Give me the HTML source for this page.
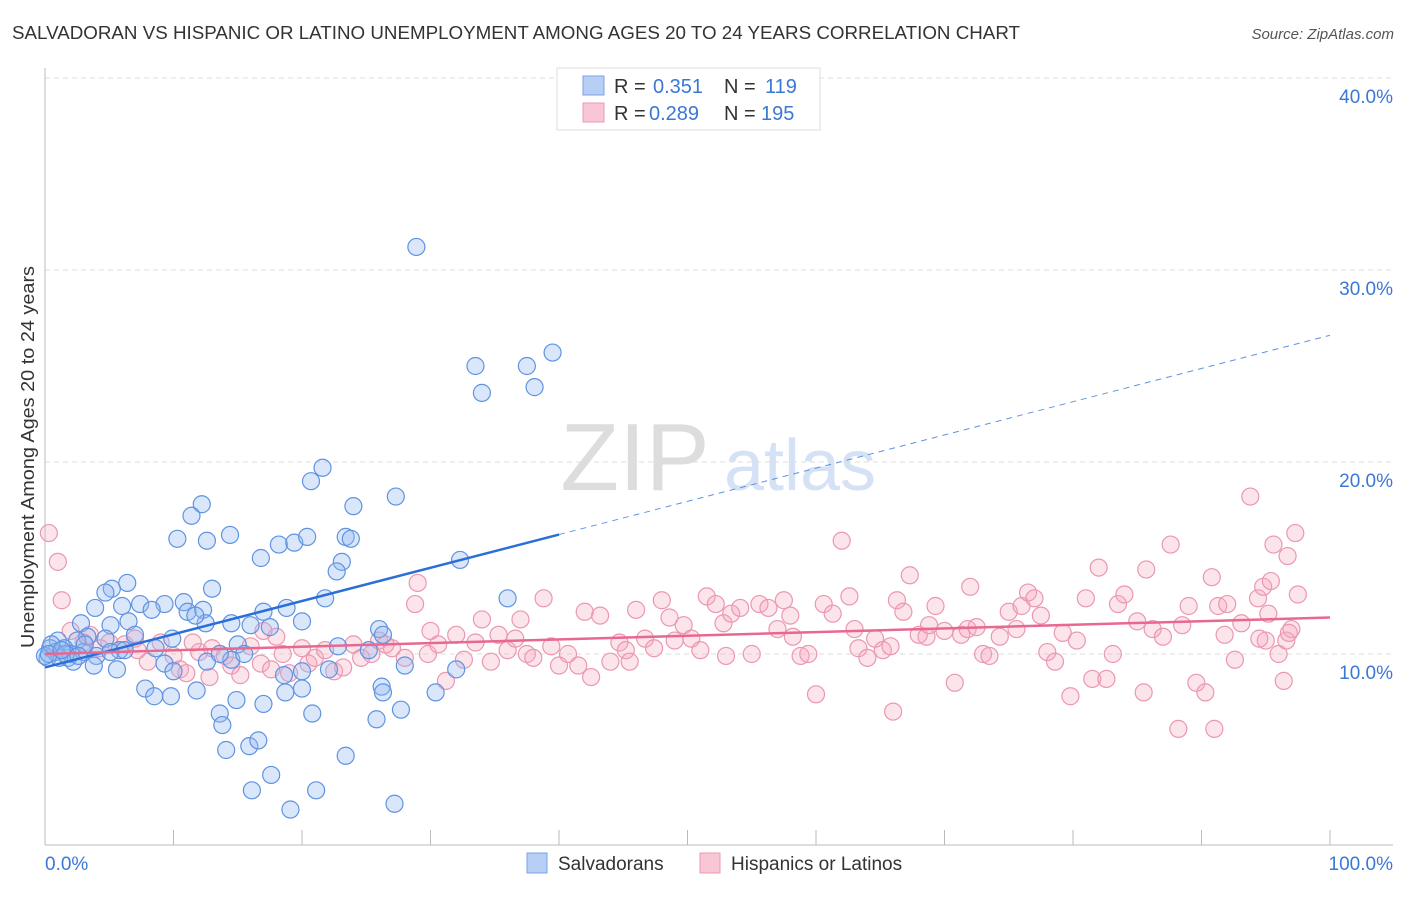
<!DOCTYPE html>
<html><head><meta charset="utf-8"><style>
body{margin:0;background:#fff;font-family:"Liberation Sans",sans-serif}
svg text{font-family:"Liberation Sans",sans-serif}
</style></head><body>
<svg id="chart" width="1406" height="892" viewBox="0 0 1406 892" xmlns="http://www.w3.org/2000/svg">
<text x="12" y="39" font-size="18.5" fill="#333" textLength="1008" lengthAdjust="spacingAndGlyphs">SALVADORAN VS HISPANIC OR LATINO UNEMPLOYMENT AMONG AGES 20 TO 24 YEARS CORRELATION CHART</text>
<text x="1394" y="39" font-size="15" fill="#555" text-anchor="end" font-style="italic">Source: ZipAtlas.com</text>
<g>
<text x="635" y="490" font-size="96" fill="#ddd" text-anchor="middle" font-family="Liberation Serif">ZIP</text>
<text x="800" y="490" font-size="72" fill="#d5e2f5" text-anchor="middle">atlas</text>
</g>
<g id="grid"></g>
<g id="axes"></g>
<g id="pink"></g>
<g id="blue"></g>
<g id="trends"></g>
<text transform="translate(34,457) rotate(-90)" font-size="18.5" fill="#333" text-anchor="middle" textLength="382" lengthAdjust="spacingAndGlyphs">Unemployment Among Ages 20 to 24 years</text>
<g>
<rect x="557" y="68" width="263" height="62" fill="#fff" stroke="#ddd"/>
<rect x="583" y="76" width="21" height="19" fill="#b8cff5" stroke="#7aa3e6"/>
<rect x="583" y="103" width="21" height="19" fill="#f9c6d6" stroke="#eb9ab4"/>
<text x="614" y="93" font-size="20" fill="#333">R = </text><text x="653" y="93" font-size="20" fill="#3a78d6">0.351</text>
<text x="724" y="93" font-size="20" fill="#333">N = </text><text x="765" y="93" font-size="20" fill="#3a78d6">119</text>
<text x="614" y="120" font-size="20" fill="#333">R = </text><text x="649" y="120" font-size="20" fill="#3a78d6">0.289</text>
<text x="724" y="120" font-size="20" fill="#333">N = </text><text x="761" y="120" font-size="20" fill="#3a78d6">195</text>
</g>
<g>
<rect x="527" y="853" width="20" height="20" fill="#b8cff5" stroke="#7aa3e6"/>
<text x="558" y="870" font-size="19" fill="#333">Salvadorans</text>
<rect x="700" y="853" width="20" height="20" fill="#f9c6d6" stroke="#eb9ab4"/>
<text x="731" y="870" font-size="19" fill="#333">Hispanics or Latinos</text>
</g>
</svg>
<script>
const xTicks=[0,10,20,30,40,50,60,70,80,90,100];
const yTicks=[10,20,30,40];
const yTickLabels=["10.0%","20.0%","30.0%","40.0%"];
const xEndLabels=["0.0%","100.0%"];
const blueTrend=[9.3,26.6];
const pinkTrend=[10.0,11.9];
const blueSolidEnd=40;
const salvadoran=[[28.9,31.2],[33.5,25.0],[37.5,25.0],[39.5,25.7],[34.0,23.6],[38.1,23.9],[21.6,19.7],[20.7,19.0],[27.3,18.2],[24.0,17.7],[12.2,17.8],[11.4,17.2],[10.3,16.0],[12.6,15.9],[14.4,16.2],[16.8,15.0],[18.2,15.7],[19.4,15.8],[20.4,16.1],[23.4,16.1],[23.8,16.0],[32.3,14.9],[23.1,14.8],[22.7,14.3],[6.4,13.7],[5.2,13.4],[13.0,13.4],[4.7,13.2],[7.4,12.6],[9.3,12.6],[10.8,12.7],[11.1,12.2],[12.3,12.3],[8.3,12.3],[6.0,12.5],[3.9,12.4],[17.0,12.2],[18.8,12.4],[21.8,12.9],[36.0,12.9],[20.0,11.7],[17.5,11.4],[16.0,11.5],[14.5,11.6],[12.5,11.6],[6.5,11.7],[2.8,11.6],[5.1,11.5],[26.0,11.3],[26.3,11.0],[7.0,11.0],[4.7,10.8],[3.3,10.9],[2.5,10.7],[1.0,10.7],[1.5,10.3],[0.4,10.3],[0.2,9.8],[0.8,10.1],[1.8,9.8],[2.0,10.0],[3.0,10.1],[4.0,9.9],[5.8,10.2],[8.6,10.3],[9.3,9.5],[10.0,9.1],[12.6,9.6],[14.5,9.7],[15.0,10.5],[3.8,9.4],[5.6,9.2],[2.2,9.6],[1.1,9.8],[0.0,9.9],[0.5,10.5],[18.6,8.9],[20.0,9.1],[22.1,9.2],[32.0,9.2],[28.0,9.4],[7.8,8.2],[11.8,8.1],[14.9,7.6],[17.0,7.4],[18.7,8.0],[20.0,8.2],[26.2,8.3],[26.3,8.0],[30.4,8.0],[9.8,7.8],[8.5,7.8],[13.6,6.9],[20.8,6.9],[25.8,6.6],[27.7,7.1],[13.8,6.3],[14.1,5.0],[15.9,5.2],[16.6,5.5],[23.4,4.7],[17.6,3.7],[16.1,2.9],[21.1,2.9],[19.1,1.9],[27.2,2.2],[5.1,10.1],[6.2,10.2],[3.1,10.5],[1.6,10.0],[15.5,10.0],[13.6,10.0],[22.8,10.4],[25.2,10.2],[9.9,10.8],[11.7,12.0],[0.3,10.0],[1.3,10.2],[2.6,9.9]];
const hispanic=[[0.3,16.3],[1.0,14.8],[1.3,12.8],[2.0,11.2],[3.0,10.6],[4.3,10.3],[5.0,10.6],[6.2,10.5],[7.2,10.2],[8.0,9.6],[9.0,10.6],[10.0,9.9],[10.5,9.2],[11.0,9.0],[12.0,10.1],[12.8,8.8],[13.0,10.3],[14.0,9.9],[14.5,9.4],[15.2,8.9],[16.0,10.4],[16.8,9.5],[17.6,9.2],[18.0,10.9],[18.5,10.0],[19.0,9.0],[20.0,10.3],[20.5,9.5],[21.0,9.8],[21.8,10.2],[22.5,9.1],[23.2,9.3],[24.0,10.5],[24.6,9.8],[25.4,10.0],[26.0,10.7],[27.0,10.3],[28.0,9.8],[28.8,12.6],[29.0,13.7],[29.8,10.0],[30.6,10.5],[31.2,8.6],[32.0,11.0],[32.6,9.7],[33.5,10.6],[34.0,11.8],[34.7,9.6],[35.3,11.0],[36.0,10.2],[36.6,10.8],[37.5,10.0],[38.0,9.8],[38.8,12.9],[39.4,10.4],[40.0,9.4],[40.7,10.0],[41.5,9.4],[42.0,12.2],[42.5,8.8],[43.2,12.0],[44.0,9.6],[44.7,10.6],[45.2,10.2],[46.0,12.3],[46.7,10.8],[47.4,10.3],[48.0,12.8],[48.6,11.9],[49.0,10.7],[49.7,11.5],[50.3,10.8],[51.0,10.2],[51.5,13.0],[52.2,12.6],[52.8,11.6],[53.4,12.1],[54.1,12.4],[55.0,10.0],[55.6,12.6],[56.3,12.4],[57.0,11.3],[57.5,12.8],[58.2,10.9],[58.8,9.9],[59.4,10.0],[60.0,7.9],[60.6,12.6],[61.3,12.1],[62.0,15.9],[62.6,13.0],[63.3,10.3],[64.0,9.8],[64.6,10.8],[65.2,10.2],[65.8,10.4],[66.3,12.8],[66.8,12.2],[67.3,14.1],[68.0,11.0],[68.6,10.9],[69.3,12.5],[70.0,11.2],[70.8,8.5],[71.3,11.0],[71.8,11.3],[72.5,11.4],[73.0,10.0],[73.5,9.9],[74.3,10.9],[75.0,12.2],[75.6,11.3],[76.0,12.5],[76.5,13.2],[77.0,12.9],[77.5,12.0],[78.0,10.1],[78.6,9.6],[79.2,11.1],[79.8,7.8],[80.3,10.7],[81.0,12.9],[81.5,8.7],[82.0,14.5],[82.6,8.7],[83.1,10.0],[83.5,12.6],[84.0,13.1],[85.0,11.7],[85.7,14.4],[86.2,11.3],[87.0,10.9],[87.6,15.7],[88.2,6.1],[89.0,12.5],[89.6,8.5],[90.3,8.0],[90.8,14.0],[91.3,12.5],[91.8,11.0],[92.6,9.7],[93.1,11.6],[93.8,18.2],[94.4,12.9],[95.0,10.7],[95.6,15.7],[94.5,10.8],[95.2,12.1],[91.0,6.1],[96.0,10.0],[96.4,8.6],[94.8,13.5],[95.4,13.8],[96.6,10.7],[97.0,11.3],[96.8,11.1],[97.5,13.1],[96.7,15.1],[97.3,16.3],[85.5,8.0],[66.0,7.0],[72.0,13.5],[68.8,11.5],[45.5,9.6],[3.5,11.0],[7.0,10.8],[11.5,10.6],[17.0,11.2],[26.5,10.5],[30.0,11.2],[37.0,11.8],[53.0,9.9],[58.0,12.0],[63.0,11.3],[88.5,11.5],[92.0,12.6]];
const X=v=>45+v*12.85, Y=v=>846-v*19.2;
const NS="http://www.w3.org/2000/svg";
function mk(tag,attrs,parent){const e=document.createElementNS(NS,tag);for(const k in attrs)e.setAttribute(k,attrs[k]);parent.appendChild(e);return e;}
const grid=document.getElementById('grid'),axes=document.getElementById('axes');
yTicks.forEach((t,i)=>{
 const l=mk('line',{x1:45,x2:1393,y1:Y(t),y2:Y(t),stroke:'#ddd','stroke-dasharray':'5,4'},grid);
 
 
 const tx=mk('text',{x:1393,y:Y(t)+25,'font-size':19,fill:'#3a78d6','text-anchor':'end'},axes);
 tx.textContent=yTickLabels[i];
 
 
});
const al=mk('line',{x1:45,x2:45,y1:68,y2:845,stroke:'#bbb'},axes);


const bl=mk('line',{x1:45,x2:1393,y1:845,y2:845,stroke:'#bbb'},axes);


xTicks.forEach(t=>{
 const l=mk('line',{x1:X(t),x2:X(t),y1:830,y2:845,stroke:'#bbb'},axes);
 
 
});
const x0=mk('text',{x:45,y:870,'font-size':19,fill:'#3a78d6'},axes);x0.textContent=xEndLabels[0];


const x1=mk('text',{x:1393,y:870,'font-size':19,fill:'#3a78d6','text-anchor':'end'},axes);x1.textContent=xEndLabels[1];


const pg=document.getElementById('pink');
hispanic.forEach(d=>{const c=mk('circle',{cx:X(d[0]),cy:Y(d[1]),r:8.5,fill:'rgba(245,165,190,0.3)',stroke:'#eb97b2','stroke-width':1.2},pg);
 
 });
const bg=document.getElementById('blue');
salvadoran.forEach(d=>{const c=mk('circle',{cx:X(d[0]),cy:Y(d[1]),r:8.5,fill:'rgba(150,185,240,0.35)',stroke:'#5f93e2','stroke-width':1.2},bg);
 
 });
const tg=document.getElementById('trends');
const by=v=>blueTrend[0]+(blueTrend[1]-blueTrend[0])*v/100;
const t1=mk('line',{x1:X(0),y1:Y(by(0)),x2:X(blueSolidEnd),y2:Y(by(blueSolidEnd)),stroke:'#2a6fd8','stroke-width':2.5},tg);


const t2=mk('line',{x1:X(blueSolidEnd),y1:Y(by(blueSolidEnd)),x2:X(100),y2:Y(by(100)),stroke:'#5f93e2','stroke-width':1,'stroke-dasharray':'6,5'},tg);


const t3=mk('line',{x1:X(0),y1:Y(pinkTrend[0]),x2:X(100),y2:Y(pinkTrend[1]),stroke:'#e8688f','stroke-width':2.5},tg);


</script>
</body></html>
